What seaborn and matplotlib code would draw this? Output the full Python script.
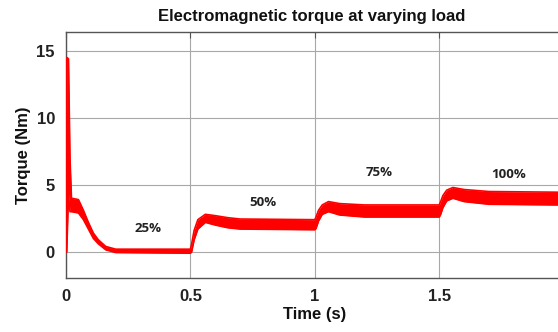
import matplotlib
matplotlib.use("Agg")
import matplotlib.pyplot as plt
import seaborn as sns
import pandas as pd

# Envelope of the torque band
time_s = [0.000, 0.003, 0.010, 0.016, 0.022, 0.050, 0.070, 0.090, 0.110, 0.130, 0.160, 0.200,
          0.500, 0.505, 0.515, 0.530, 0.560, 0.600, 0.650, 0.700, 1.000,
          1.005, 1.015, 1.030, 1.055, 1.100, 1.200, 1.500,
          1.505, 1.515, 1.530, 1.555, 1.600, 1.700, 1.976]
torque_upper = [0.2, 14.5, 14.4, 7.0, 4.0, 3.9, 3.1, 2.2, 1.4, 0.9, 0.4, 0.2,
                0.2, 0.6, 1.6, 2.4, 2.8, 2.7, 2.55, 2.45, 2.4,
                2.6, 3.1, 3.5, 3.75, 3.6, 3.5, 3.5,
                3.7, 4.2, 4.6, 4.8, 4.65, 4.5, 4.45]
torque_lower = [0.0, 0.0, 4.3, 3.0, 3.0, 2.9, 2.4, 1.7, 1.0, 0.6, 0.15, -0.05,
                -0.1, 0.0, 0.9, 1.7, 2.2, 2.0, 1.8, 1.7, 1.65,
                1.75, 2.3, 2.8, 3.0, 2.75, 2.6, 2.6,
                2.75, 3.3, 3.8, 4.0, 3.75, 3.55, 3.5]

load_labels = ["25%", "50%", "75%", "100%"]
label_t = [0.33, 0.79, 1.26, 1.78]
label_y = [1.72, 3.66, 5.9, 5.75]

xticks = [0, 0.5, 1, 1.5]
xticklabels = ["0", "0.5", "1", "1.5"]
yticks = [0, 5, 10, 15]

df = pd.DataFrame({"t": time_s, "up": torque_upper, "lo": torque_lower})

sns.set_style("white")
plt.rcParams["font.family"] = ["Liberation Sans", "DejaVu Sans"]

fig = plt.figure(figsize=(5.58, 3.32), dpi=100)
ax = fig.add_axes([66 / 558, (332 - 278) / 332, 1 - 66 / 558 + 0.01, (278 - 32) / 332])

red = "#ff0000"
ax.fill_between(df["t"], df["lo"], df["up"], color=red, linewidth=0, zorder=3)
sns.lineplot(data=df, x="t", y="up", ax=ax, color=red, linewidth=1.2, zorder=3)
sns.lineplot(data=df, x="t", y="lo", ax=ax, color=red, linewidth=1.2, zorder=3)

ax.set_xlim(0, 2.0)
ax.set_ylim(-1.95, 16.4)
ax.set_xticks(xticks)
ax.set_xticklabels(xticklabels)
ax.set_yticks(yticks)
ax.grid(True, color="#a8a8a8", linewidth=0.8, zorder=0)
for s in ["left", "bottom", "top", "right"]:
    ax.spines[s].set_color("#555555")
    ax.spines[s].set_linewidth(1.0)
ax.tick_params(direction="in", length=4, color="#555555", top=True, right=False,
               labelsize=12, pad=8)
for lab in ax.get_xticklabels() + ax.get_yticklabels():
    lab.set_fontweight("bold")
    lab.set_color("#222222")

ax.set_xlabel("Time (s)", fontsize=12, fontweight="bold", color="#111111", labelpad=2)
ax.set_ylabel("Torque (Nm)", fontsize=12, fontweight="bold", color="#111111", labelpad=4)
fig.text(312 / 558, 1 - 17 / 332, "Electromagnetic torque at varying load",
         ha="center", va="center", fontsize=12, fontweight="bold", color="#111111")

for lab, tx, ty in zip(load_labels, label_t, label_y):
    ax.text(tx, ty, lab, ha="center", va="center", fontsize=9.5, fontweight="bold",
            color="#222222", family=["Open Sans", "DejaVu Sans"], zorder=5)

fig.savefig("out.png", dpi=100)
